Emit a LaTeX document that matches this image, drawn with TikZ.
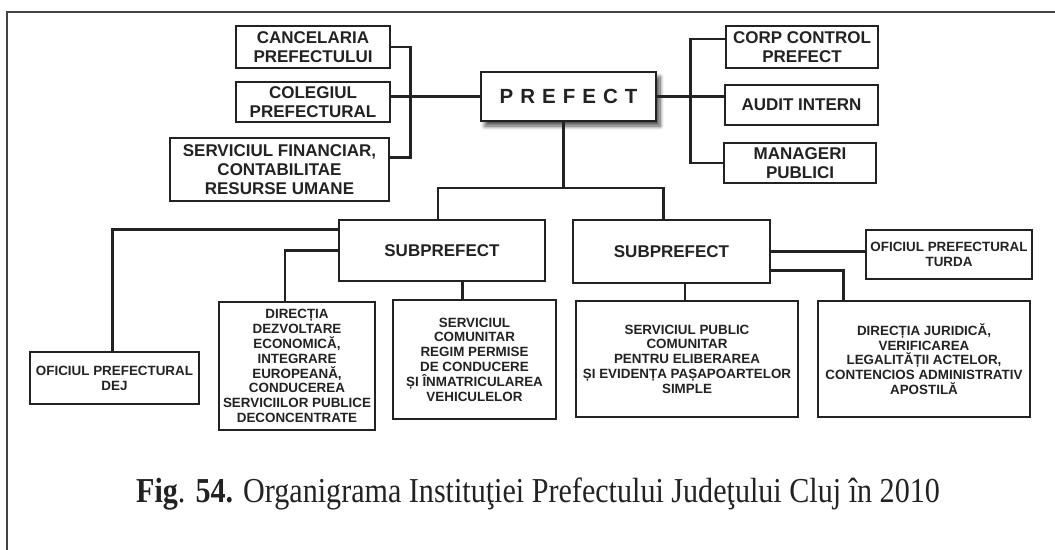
\documentclass[tikz,border=0pt]{standalone}
\usepackage{fontspec}
\setmainfont{Liberation Serif}
\newfontfamily\boxfont{Liberation Sans}
\usepackage{tikz}
\usetikzlibrary{positioning,shadows.blur}
\definecolor{InkColor}{RGB}{34,34,34}
\newcommand{\lettergap}{\hspace{7pt}}

\begin{document}
\begin{tikzpicture}[
    x=1pt, y=-1pt,
    unitbox/.style={rectangle, draw=InkColor, line width=2.8pt, fill=white, inner sep=0pt, align=center, text=InkColor, font=\boxfont\bfseries\fontsize{17}{19}\selectfont},
    smallbox/.style={unitbox, font=\boxfont\bfseries\fontsize{13.4}{14.8}\selectfont},
    wh/.style 2 args={minimum width=#1pt, minimum height=#2pt},
    link/.style={draw=InkColor, line width=2.3pt}
]
    \useasboundingbox (0,0) rectangle (1055,549);
    \draw[InkColor!85, line width=1.3pt] (7,560) -- (7,12) -- (1065,12);

    % top level
    \node[unitbox, wh={175}{49}, font=\boxfont\bfseries\fontsize{20.5}{24}\selectfont,
          blur shadow={shadow xshift=4pt, shadow yshift=-5pt, shadow blur radius=4pt, shadow blur steps=8, shadow opacity=70}]
          (prefect) at (568.5,96.5) {P\lettergap R\lettergap E\lettergap F\lettergap E\lettergap C\lettergap T};

    \node[unitbox, wh={154}{42}] (canc) at (313,47) {CANCELARIA\\PREFECTULUI};
    \node[unitbox, wh={154}{40}] (coleg) at (313,102) {COLEGIUL\\PREFECTURAL};
    \node[unitbox, wh={219}{63}] (finan) at (279.5,169.5) {SERVICIUL FINANCIAR,\\CONTABILITAE\\RESURSE UMANE};

    \node[unitbox, wh={152}{42}] (corp) at (802,47) {CORP CONTROL\\PREFECT};
    \node[unitbox, wh={153}{40}] (audit) at (801.5,105) {AUDIT INTERN};
    \node[unitbox, wh={152}{40}] (manag) at (800,163) {MANAGERI\\PUBLICI};

    % subprefects
    \node[unitbox, wh={206}{61}] (sub1) at (442,250.5) {SUBPREFECT};
    \node[unitbox, wh={197}{63}] (sub2) at (671.5,251.5) {SUBPREFECT};

    % bottom level
    \node[smallbox, wh={169}{52}] (dej) at (114.5,378) {OFICIUL PREFECTURAL\\DEJ};
    \node[smallbox, wh={156}{128}] (direc) at (297,366) {DIRECȚIA\\DEZVOLTARE\\ECONOMICĂ,\\INTEGRARE\\EUROPEANĂ,\\CONDUCEREA\\SERVICIILOR PUBLICE\\DECONCENTRATE};
    \node[smallbox, wh={163}{119}] (serv) at (474.5,359.5) {SERVICIUL\\COMUNITAR\\REGIM PERMISE\\DE CONDUCERE\\ȘI ÎNMATRICULAREA\\VEHICULELOR};
    \node[smallbox, wh={222}{116}] (servpub) at (687,359) {SERVICIUL PUBLIC\\COMUNITAR\\PENTRU ELIBERAREA\\ȘI EVIDENȚA PAȘAPOARTELOR\\SIMPLE};
    \node[smallbox, wh={166}{49}] (turda) at (949,254.5) {OFICIUL PREFECTURAL\\TURDA};
    \node[smallbox, wh={212}{116}] (jurid) at (924,359) {DIRECȚIA JURIDICĂ,\\VERIFICAREA\\LEGALITĂȚII ACTELOR,\\CONTENCIOS ADMINISTRATIV\\APOSTILĂ};

    % connectors
    \draw[link] (canc.east) -- ++(19,0) |- ([yshift=-21pt]finan.north east);
    \draw[link] (prefect.west) -- (prefect.west -| coleg.east);
    \draw[link] ([yshift=8pt]corp.west) -- ++(-34,0) |- (manag.west);
    \draw[link] (prefect.east) -- (prefect.east -| audit.west);
    \draw[link] ([xshift=-5pt]prefect.south) -- ([xshift=-5pt]prefect.south |- 0,188) coordinate (hub);
    \draw[link] ([xshift=-4pt]sub1.north) |- (hub) -| ([xshift=-8pt]sub2.north);
    \draw[link] ([yshift=-11pt]sub1.north west) -| ([xshift=-2pt]dej.north);
    \draw[link] (sub1.west) -| ([xshift=-12pt]direc.north);
    \draw[link] ([xshift=-12pt]serv.north) -- ([xshift=-12pt]serv.north |- sub1.south);
    \draw[link] ([xshift=-2pt]servpub.north) -- ([xshift=-2pt]servpub.north |- sub2.south);
    \draw[link] (sub2.east) -- (sub2.east -| turda.west);
    \draw[link] ([yshift=-19pt]sub2.east) -| ([xshift=27pt]jurid.north west);

    \node[font=\fontsize{35}{40}\selectfont, anchor=base, text=InkColor] (caption) at (538,502)
        {\scalebox{0.86}[1]{\textbf{Fig}. \textbf{54.} Organigrama Instituţiei Prefectului Judeţului Cluj în 2010}};
\end{tikzpicture}
\end{document}
